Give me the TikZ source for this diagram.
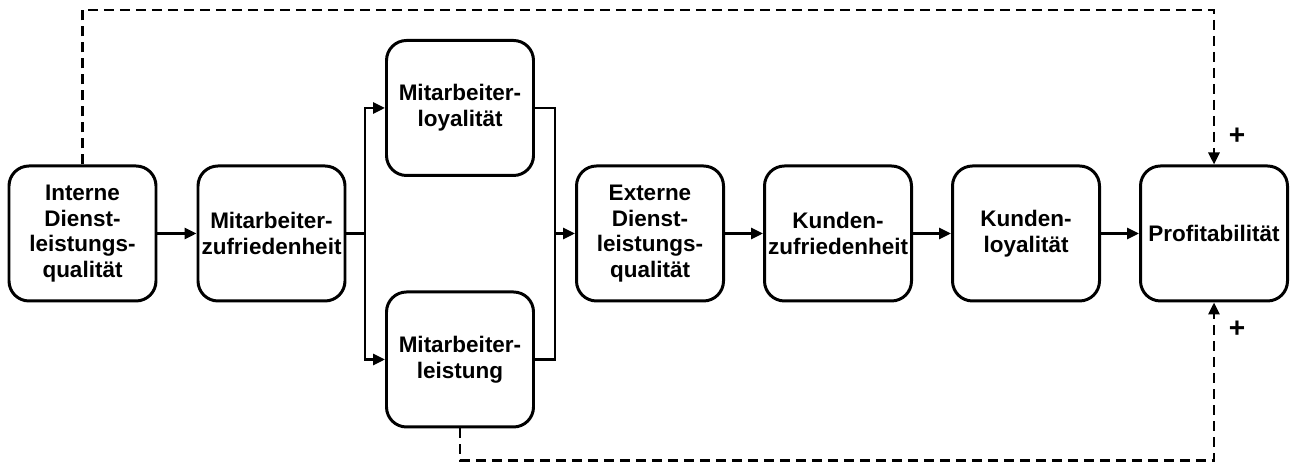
\documentclass[tikz,border=0pt]{standalone}
\usepackage{fontspec}
\setmainfont{Liberation Sans}
\usetikzlibrary{arrows.meta,positioning}
\tikzset{
  box/.style={draw,line width=1.7pt,rounded corners=0.4cm,minimum width=2.94cm,
    minimum height=2.7cm,align=center,inner sep=1pt,
    font=\bfseries\fontsize{12.8}{14.6}\selectfont},
  arr/.style={line width=1.6pt,-{Triangle[length=0.24cm,width=0.22cm]}},
  link/.style={line width=1.6pt},
  fb/.style={line width=1.7pt,dash pattern=on 0.2cm off 0.12cm}
}

\begin{document}
\begin{tikzpicture}[scale=1.0]
  \useasboundingbox (0,0) rectangle (25.86,9.28);

  \node[box] (intern) at (1.65,4.61) {Interne\\Dienst-\\leistungs-\\qualität};
  \node[box] (mazufr) at (5.43,4.61) {Mitarbeiter-\\zufriedenheit};
  \node[box] (maloy) at (9.2,7.12) {Mitarbeiter-\\loyalität};
  \node[box] (maleist) at (9.2,2.09) {Mitarbeiter-\\leistung};
  \node[box] (extern) at (13.0,4.61) {Externe\\Dienst-\\leistungs-\\qualität};
  \node[box] (kdzufr) at (16.76,4.61) {Kunden-\\zufriedenheit};
  \node[box] (kdloy) at (20.52,4.61) {Kunden-\\loyalität};
  \node[box] (profit) at (24.28,4.61) {Profitabilität};

  \coordinate (split) at (7.3,4.61);  %Branch point
  \coordinate (merge) at (11.1,4.61); %Join point
  \coordinate (top) at (0,9.08);      %Upper feedback line
  \coordinate (bot) at (0,0.07);      %Lower feedback line

  \draw[arr] (intern) -- (mazufr);
  \draw[link] (mazufr) -- (split);
  \draw[arr] (split) |- (maloy);
  \draw[arr] (split) |- (maleist);
  \draw[link] (maloy) -| (merge);
  \draw[link] (maleist) -| (merge);
  \draw[arr] (merge) -- (extern);
  \draw[arr] (extern) -- (kdzufr);
  \draw[arr] (kdzufr) -- (kdloy);
  \draw[arr] (kdloy) -- (profit);

  \draw[fb,arr] (intern.north) -- (intern.north |- top) -| (profit.north); %Top feedback
  \draw[fb,arr] (maleist.south) -- (maleist.south |- bot) -| (profit.south); %Bottom feedback

  \node[font=\bfseries\fontsize{16}{18}\selectfont] (plustop) at (24.74,6.56) {+};
  \node[font=\bfseries\fontsize{16}{18}\selectfont] (plusbot) at (24.74,2.7) {+};
\end{tikzpicture}
\end{document}
